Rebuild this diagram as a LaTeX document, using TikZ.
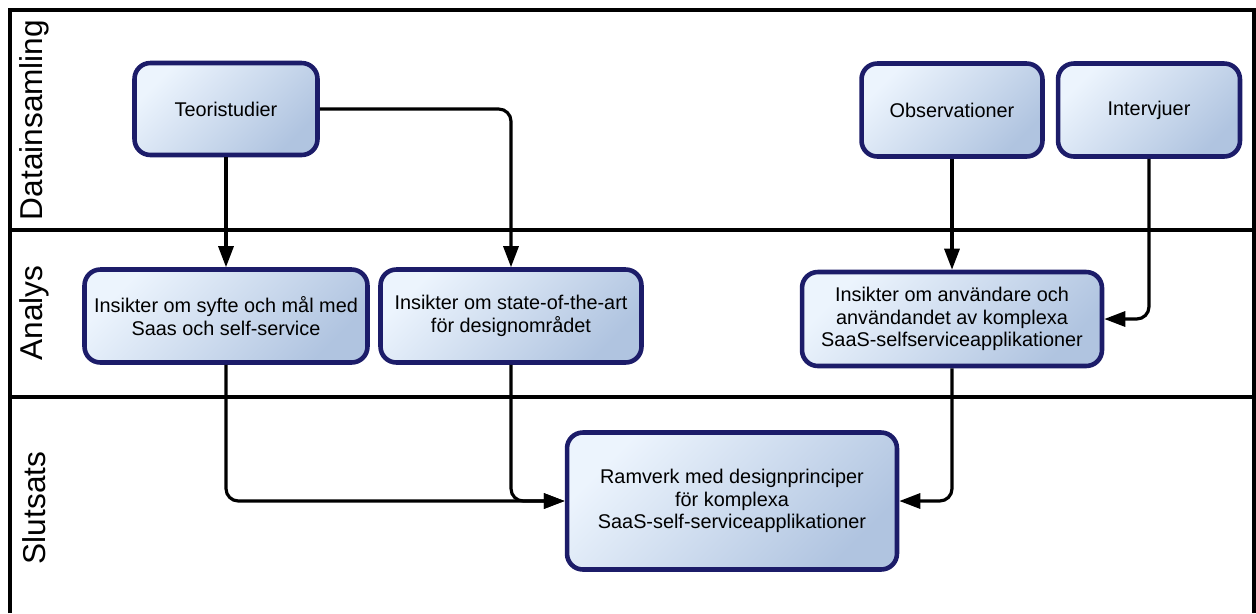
\documentclass[tikz,border=0pt]{standalone}
\usepackage{fontspec}
\setmainfont{Liberation Sans}
\usepackage{xcolor}
\usepackage{tikz}
\usetikzlibrary{positioning, arrows.meta}

\definecolor{boxedge}{RGB}{28,28,105}
\definecolor{boxlight}{RGB}{236,244,253}
\definecolor{boxdark}{RGB}{176,196,224}

\begin{document}
\begin{tikzpicture}[
    x=0.02cm, y=-0.02cm,
    phase/.style={rectangle, draw=boxedge, line width=2.6pt, rounded corners=9pt, top color=boxlight, bottom color=boxdark, shading angle=45, align=center, font=\fontsize{11.3}{12.8}\selectfont, inner sep=2pt},
    lane/.style={rotate=90, font=\fontsize{18}{20}\selectfont},
    arr/.style={-{Triangle[length=4.2mm, width=3mm]}, line width=1.8pt, rounded corners=7pt},
]
\useasboundingbox (0,0) rectangle (1256,613);

% Swimlane frame
\draw[line width=1.8pt] (10,613) -- (10,10) -- (1254,10) -- (1254,613);
\draw[line width=1.8pt] (10,230) -- (1254,230);
\draw[line width=1.8pt] (10,397) -- (1254,397);

% Lane labels
\node[lane] (l1) at (34,120) {Datainsamling};
\node[lane] (l2) at (34,313) {Analys};
\node[lane] (l3) at (34,508) {Slutsats};

% Data collection
\node[phase, minimum width=3.66cm, minimum height=1.84cm] (teori) at (226,109) {Teoristudier};
\node[phase, minimum width=3.62cm, minimum height=1.86cm] (obs) at (952,110) {Observationer};
\node[phase, minimum width=3.64cm, minimum height=1.86cm] (intv) at (1149,110) {Intervjuer};

% Analysis
\node[phase, minimum width=5.66cm, minimum height=1.86cm] (syfte) at (226,316) {Insikter om syfte och mål med\\Saas och self-service};
\node[phase, minimum width=5.22cm, minimum height=1.86cm] (state) at (511,316) {Insikter om state-of-the-art\\för designområdet};
\node[phase, minimum width=6.0cm, minimum height=1.88cm] (anv) at (952,319) {Insikter om användare och\\användandet av komplexa\\SaaS-selfserviceapplikationer};

% Conclusion
\node[phase, minimum width=6.6cm, minimum height=2.74cm] (ram) at (732,501) {Ramverk med designprinciper\\för komplexa\\SaaS-self-serviceapplikationer};

% Connectors
\draw[arr] (teori) -- (syfte);
\draw[arr] (teori.east) -| (state.north);
\draw[arr] (obs) -- (anv);
\draw[arr] (intv.south) |- (anv.east);
\draw[arr] (syfte.south) |- (ram.west);
\draw[arr] (state.south) |- (ram.west);
\draw[arr] (anv.south) |- (ram.east);

\end{tikzpicture}
\end{document}
